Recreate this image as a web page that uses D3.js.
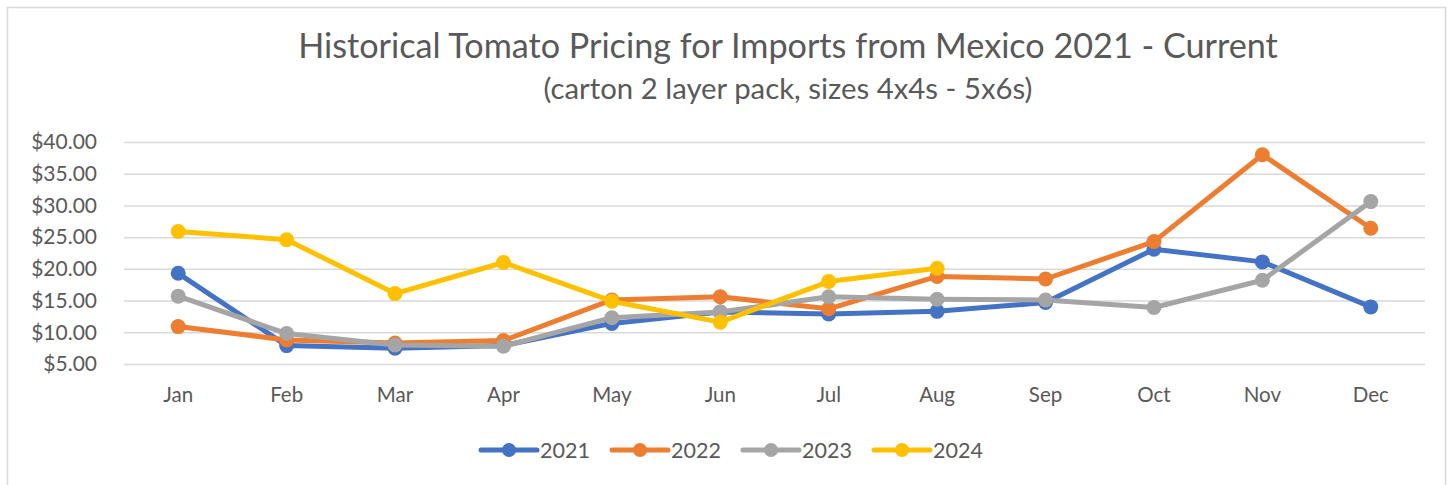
<!DOCTYPE html>
<html>
<head>
<meta charset="utf-8">
<script src="https://cdn.jsdelivr.net/npm/d3@7"></script>
<style>
    html, body { margin: 0; padding: 0; background: #fff; }
    svg { display: block; font-family: Lato, "Open Sans", sans-serif; }
</style>
</head>
<body>
<svg id="chart" width="1448" height="485"></svg>
<script>
const months = ["Jan", "Feb", "Mar", "Apr", "May", "Jun", "Jul", "Aug", "Sep", "Oct", "Nov", "Dec"];
const years = ["2021", "2022", "2023", "2024"];
const colors = ["#4472C4", "#ED7D31", "#A5A5A5", "#FFC000"];
const yTicks = [5, 10, 15, 20, 25, 30, 35, 40];

const price2021 = [19.3, 7.9, 7.5, 7.9, 11.4, 13.2, 12.9, 13.3, 14.7, 23.1, 21.1, 14.0];
const price2022 = [10.9, 8.8, 8.3, 8.7, 15.1, 15.6, 13.7, 18.8, 18.4, 24.3, 38.0, 26.4];
const price2023 = [15.7, 9.8, 8.0, 7.8, 12.3, 13.2, 15.6, 15.2, 15.1, 13.9, 18.2, 30.6];
const price2024 = [25.9, 24.6, 16.1, 21.0, 14.9, 11.6, 18.0, 20.1];

const seriesValues = [price2021, price2022, price2023, price2024];

const title = "Historical Tomato Pricing for Imports from Mexico 2021 - Current";
const subtitle = "(carton 2 layer pack, sizes 4x4s - 5x6s)";

function fitText(sel, targetWidth, size) {
    sel.attr("font-size", size);
    const w = sel.node().getComputedTextLength();
    sel.attr("font-size", size * targetWidth / w);
}

function renderChart() {
    const svg = d3.select("#chart");
    const textColor = "#595959";
    const margin = { top: 142, right: 23, bottom: 121, left: 124 };
    const width = 1448, height = 485;

    // chart frame
    svg.append("rect")
        .attr("x", 7.5).attr("y", 7.5)
        .attr("width", 1438).attr("height", 500)
        .attr("fill", "#fff")
        .attr("stroke", "#D9D9D9")
        .attr("stroke-width", 1.5);

    const titleText = svg.append("text")
        .attr("x", 788).attr("y", 58)
        .attr("text-anchor", "middle")
        .attr("fill", textColor)
        .text(title);
    fitText(titleText, 980, 30);

    const subText = svg.append("text")
        .attr("x", 788).attr("y", 99)
        .attr("text-anchor", "middle")
        .attr("fill", textColor)
        .text(subtitle);
    fitText(subText, 489, 24);

    const x = d3.scaleBand()
        .domain(months)
        .range([margin.left, width - margin.right]);

    const y = d3.scaleLinear()
        .domain([5, 40])
        .range([height - margin.bottom, margin.top]);

    // gridlines + y labels
    const yAxis = svg.append("g")
        .attr("transform", `translate(${margin.left},0)`)
        .call(d3.axisLeft(y)
            .tickValues(yTicks)
            .tickSize(-(width - margin.left - margin.right))
            .tickPadding(27)
            .tickFormat((d) => `$${d.toFixed(2)}`));
    yAxis.select(".domain").remove();
    yAxis.selectAll(".tick line").attr("stroke", "#D9D9D9").attr("stroke-width", 1.5);
    yAxis.selectAll(".tick text")
        .attr("fill", textColor)
        .attr("font-size", 21)
        .attr("font-family", "Lato, sans-serif");

    // month labels
    const xAxis = svg.append("g")
        .attr("transform", `translate(0,${height - margin.bottom})`)
        .call(d3.axisBottom(x).tickSize(0).tickPadding(23));
    xAxis.select(".domain").remove();
    xAxis.selectAll(".tick text")
        .attr("fill", textColor)
        .attr("font-size", 20.5)
        .attr("font-family", "Lato, sans-serif");

    const cx = (i) => x(months[i]) + x.bandwidth() / 2;

    const line = d3.line()
        .x((d, i) => cx(i))
        .y((d) => y(d));

    seriesValues.forEach((values, s) => {
        const g = svg.append("g");
        g.append("path")
            .datum(values)
            .attr("fill", "none")
            .attr("stroke", colors[s])
            .attr("stroke-width", 5)
            .attr("stroke-linejoin", "round")
            .attr("stroke-linecap", "round")
            .attr("d", line);
        g.selectAll("circle")
            .data(values)
            .enter()
            .append("circle")
            .attr("cx", (d, i) => cx(i))
            .attr("cy", (d) => y(d))
            .attr("r", 7.5)
            .attr("fill", colors[s]);
    });

    // legend
    const legend = svg.append("g").attr("transform", "translate(481,450)");
    years.forEach((yr, i) => {
        const item = legend.append("g").attr("transform", `translate(${i * 131},0)`);
        item.append("line")
            .attr("x1", 0).attr("x2", 56)
            .attr("stroke", colors[i])
            .attr("stroke-width", 5)
            .attr("stroke-linecap", "round");
        item.append("circle")
            .attr("cx", 28).attr("r", 7)
            .attr("fill", colors[i]);
        item.append("text")
            .attr("x", 59).attr("dy", "0.35em")
            .attr("fill", textColor)
            .attr("font-size", 21.5)
            .text(yr);
    });
}

document.addEventListener("DOMContentLoaded", renderChart);
</script>
</body>
</html>
